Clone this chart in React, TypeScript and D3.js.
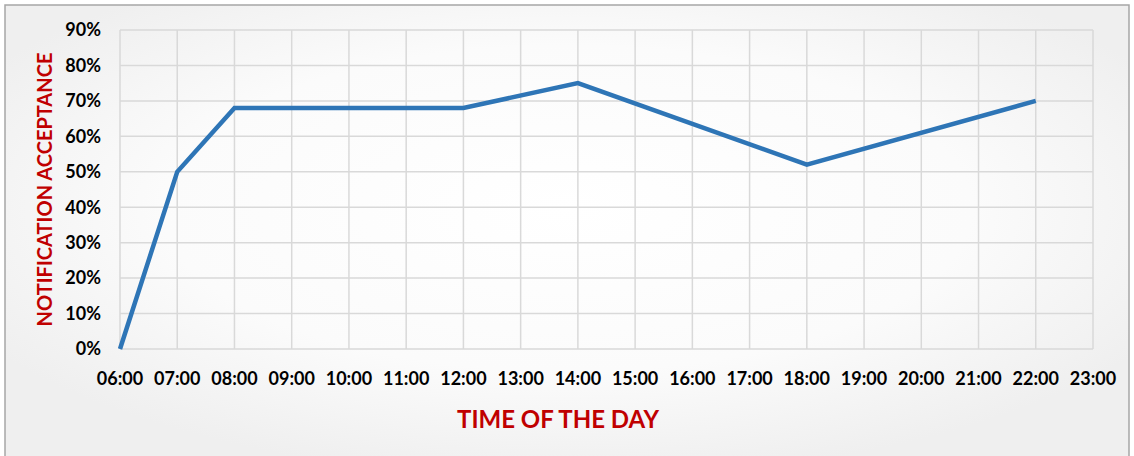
import React from 'react';
import * as d3 from 'd3';

// hours shown on the x axis
const hours = ['06:00', '07:00', '08:00', '09:00', '10:00', '11:00', '12:00', '13:00', '14:00',
  '15:00', '16:00', '17:00', '18:00', '19:00', '20:00', '21:00', '22:00', '23:00'];

// measured points (time, acceptance share)
const pointTimes = ['06:00', '07:00', '08:00', '12:00', '14:00', '18:00', '22:00'];
const pointValues = [0.0, 0.50, 0.68, 0.68, 0.75, 0.52, 0.70];

const yTicks = [0, 0.1, 0.2, 0.3, 0.4, 0.5, 0.6, 0.7, 0.8, 0.9];

const width = 1134;
const height = 456;
const margin = {top: 30, right: 41, bottom: 107, left: 120};

const font = 'Lato, "Open Sans", sans-serif';

export default function App() {
  const x = d3.scalePoint<string>()
    .domain(hours)
    .range([margin.left, width - margin.right]);

  const y = d3.scaleLinear()
    .domain([0, 0.9])
    .range([height - margin.bottom, margin.top]);

  const line = d3.line<number>()
    .x((d, i) => x(pointTimes[i]) as number)
    .y((d) => y(d));

  const fmt = d3.format('.0%');

  return (
    <svg width={width} height={height} style={{position: 'absolute', left: 0, top: 0}}>
      <defs>
        <radialGradient id="bg" cx="50%" cy="45%" r="60%">
          <stop offset="0%" stopColor="#ffffff"/>
          <stop offset="60%" stopColor="#fbfbfb"/>
          <stop offset="100%" stopColor="#efefef"/>
        </radialGradient>
      </defs>
      <rect x={5} y={5} width={width - 10} height={height - 4} fill="url(#bg)" stroke="#a6a6a6" strokeWidth={1.5}/>

      {/* gridlines */}
      <g stroke="#d9d9d9" strokeWidth={1.5}>
        {yTicks.map((t) => (
          <line key={t} x1={margin.left} x2={width - margin.right} y1={y(t)} y2={y(t)}/>
        ))}
        {hours.map((h) => (
          <line key={h} x1={x(h)} x2={x(h)} y1={margin.top} y2={height - margin.bottom}/>
        ))}
      </g>

      {/* y tick labels */}
      <g fontFamily={font} fontWeight="bold" fontSize={18} fill="#000" textAnchor="end">
        {yTicks.map((t) => (
          <text key={t} x={margin.left - 19} y={y(t)} dy="0.35em">{fmt(t)}</text>
        ))}
      </g>

      {/* x tick labels */}
      <g fontFamily={font} fontWeight="bold" fontSize={18} fill="#000" textAnchor="middle">
        {hours.map((h) => (
          <text key={h} x={x(h)} y={379} dy="0.35em">{h}</text>
        ))}
      </g>

      <path d={line(pointValues) || ''} fill="none" stroke="#2e75b6" strokeWidth={4.5} strokeLinejoin="miter"/>

      <text x={558} y={420} dy="0.35em" textAnchor="middle" fontFamily={font} fontWeight="bold"
            fontSize={24} fill="#c00000">TIME OF THE DAY</text>
      <text transform={`translate(45,${(margin.top + height - margin.bottom) / 2}) rotate(-90)`}
            dy="0.35em" textAnchor="middle" fontFamily={font} fontWeight="bold"
            fontSize={20} fill="#c00000">NOTIFICATION ACCEPTANCE</text>
    </svg>
  );
}
